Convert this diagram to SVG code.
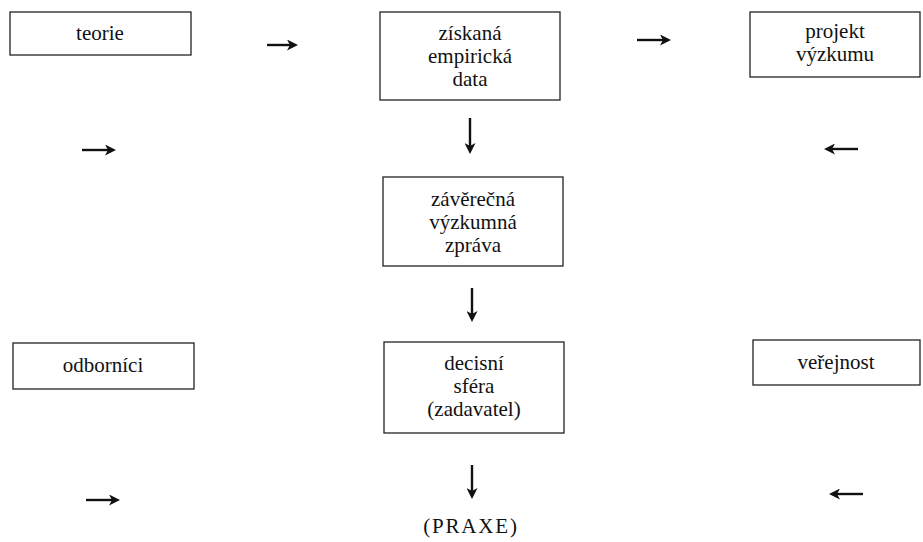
<svg xmlns="http://www.w3.org/2000/svg" width="923" height="542" viewBox="0 0 923 542">
<style>
.box{fill:#fff;stroke:#222;stroke-width:1.3}
.t{font-family:"Liberation Serif","Times New Roman",serif;font-size:21px;fill:#111;text-anchor:middle}
.a{stroke:#111;stroke-width:2.4;fill:none}
.h{fill:#111;stroke:none}
</style>
<defs>
<marker id="ah" markerWidth="11" markerHeight="11" refX="5" refY="5.5" orient="auto" markerUnits="userSpaceOnUse"><path class="h" d="M0,0 L11,5.5 L0,11 L3,5.5 Z"/></marker>
</defs>
<rect width="923" height="542" fill="#fff"/>
<g id="teorie"><rect class="box" x="10" y="12" width="181" height="43"/><text class="t" x="100" y="40">teorie</text></g>
<g id="data"><rect class="box" x="380" y="12" width="180" height="88"/><text class="t" x="470" y="40">získaná</text><text class="t" x="470" y="63">empirická</text><text class="t" x="470" y="86">data</text></g>
<g id="projekt"><rect class="box" x="750" y="12" width="170" height="65"/><text class="t" x="835" y="38">projekt</text><text class="t" x="835" y="61">výzkumu</text></g>
<g id="zprava"><rect class="box" x="383" y="177" width="180" height="89"/><text class="t" x="473" y="206">závěrečná</text><text class="t" x="473" y="229">výzkumná</text><text class="t" x="473" y="252">zpráva</text></g>
<g id="odbornici"><rect class="box" x="13" y="343" width="181" height="46"/><text class="t" x="103" y="372">odborníci</text></g>
<g id="decisni"><rect class="box" x="384" y="342" width="180" height="91"/><text class="t" x="474" y="370">decisní</text><text class="t" x="474" y="393">sféra</text><text class="t" x="474" y="416">(zadavatel)</text></g>
<g id="verejnost"><rect class="box" x="753" y="340" width="167" height="45"/><text class="t" x="836" y="369">veřejnost</text></g>
<g id="praxe"><text class="t" x="471" y="533" font-size="20" letter-spacing="1.8">(PRAXE)</text></g>
<g id="connectors">
<line class="a" x1="267" y1="45" x2="292" y2="45" marker-end="url(#ah)"/>
<line class="a" x1="637" y1="40" x2="665" y2="40" marker-end="url(#ah)"/>
<line class="a" x1="82" y1="150" x2="110" y2="150" marker-end="url(#ah)"/>
<line class="a" x1="858" y1="149" x2="830" y2="149" marker-end="url(#ah)"/>
<line class="a" x1="470" y1="118" x2="470" y2="148" marker-end="url(#ah)"/>
<line class="a" x1="472" y1="288" x2="472" y2="316" marker-end="url(#ah)"/>
<line class="a" x1="86" y1="500" x2="114" y2="500" marker-end="url(#ah)"/>
<line class="a" x1="863" y1="494" x2="835" y2="494" marker-end="url(#ah)"/>
<line class="a" x1="472" y1="465" x2="472" y2="493" marker-end="url(#ah)"/>
</g>
</svg>
